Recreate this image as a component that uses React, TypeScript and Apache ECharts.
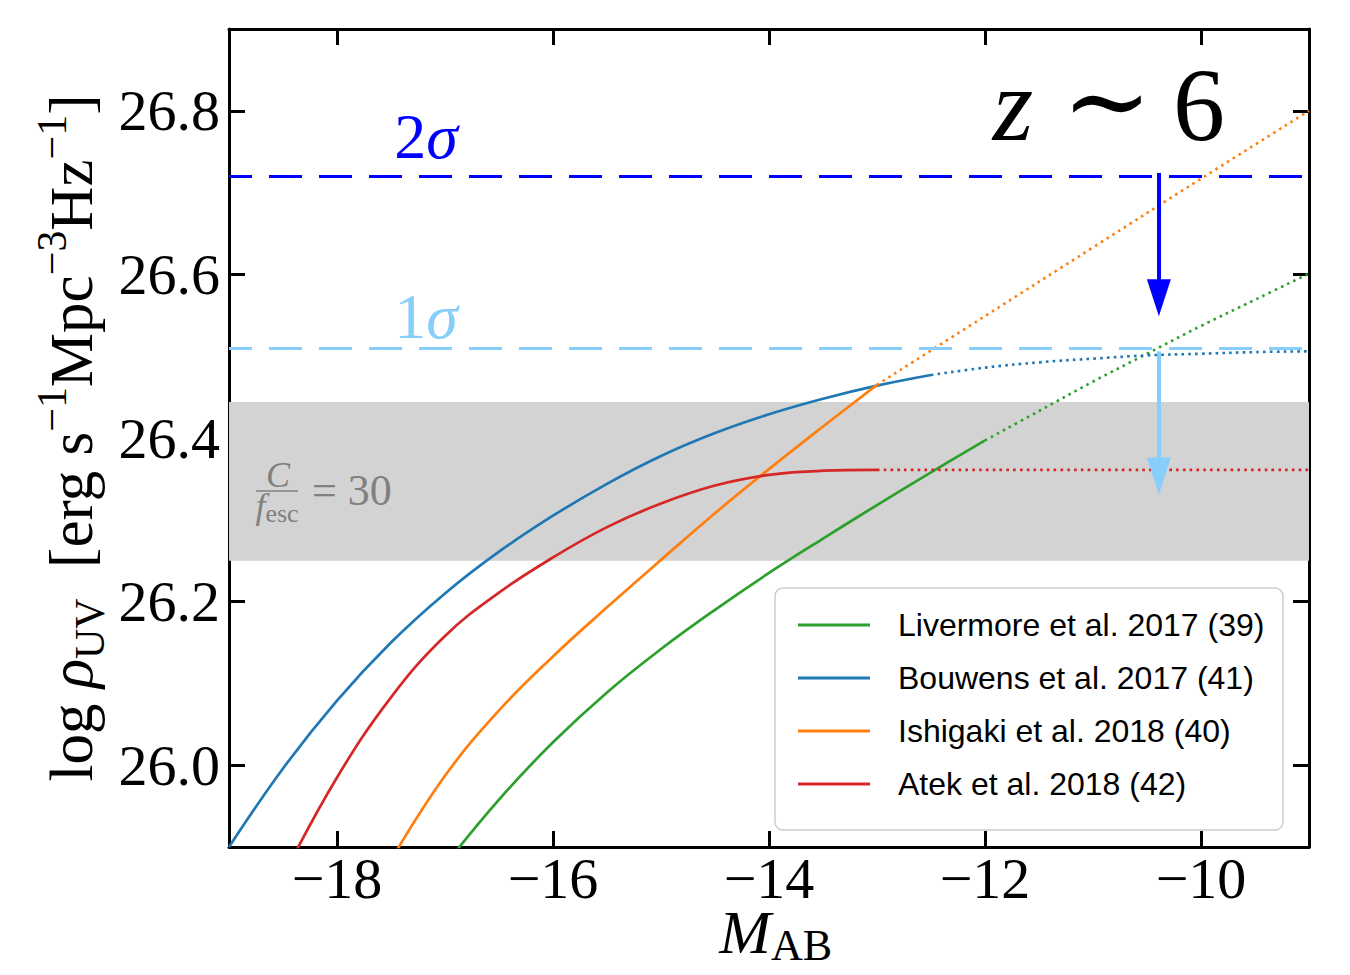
import React, { useEffect, useRef } from "react";
import * as echarts from "echarts";

// Axis ranges and ticks
const X_MIN = -19;
const X_MAX = -9;
const Y_MIN = 25.9;
const Y_MAX = 26.9;
const xTicks = [-18, -16, -14, -12, -10];
const yTicks = [26.0, 26.2, 26.4, 26.6, 26.8];

// Legend entries and colours
const names = [
  "Livermore et al. 2017 (39)",
  "Bouwens et al. 2017 (41)",
  "Ishigaki et al. 2018 (40)",
  "Atek et al. 2018 (42)",
];
const colors = ["#2ca02c", "#1f77b4", "#ff7f0e", "#d62728"];

// Livermore et al. 2017: integrated log rho_UV vs limiting magnitude
const livermoreM = [-17.0, -16.5, -16.0, -15.5, -15.0, -14.5, -14.0, -13.5, -13.0, -12.5, -12.0];
const livermoreRho = [25.878, 25.958, 26.028, 26.089, 26.142, 26.19, 26.235, 26.277, 26.318, 26.358, 26.397];
const livermoreExtM = [-12.0, -11.5, -11.0, -10.5, -10.0, -9.5, -9.0];
const livermoreExtRho = [26.397, 26.433, 26.469, 26.503, 26.537, 26.569, 26.601];

// Bouwens et al. 2017
const bouwensM = [-19.0, -18.5, -18.0, -17.5, -17.0, -16.5, -16.0, -15.5, -15.0, -14.5, -14.0, -13.5, -13.0, -12.5];
const bouwensRho = [25.9, 25.996, 26.079, 26.15, 26.21, 26.261, 26.305, 26.344, 26.378, 26.406, 26.429, 26.448, 26.464, 26.477];
const bouwensExtM = [-12.5, -12.0, -11.5, -11.0, -10.5, -10.0, -9.5, -9.0];
const bouwensExtRho = [26.477, 26.486, 26.4925, 26.497, 26.501, 26.503, 26.505, 26.506];

// Ishigaki et al. 2018
const ishigakiM = [-17.5, -17.0, -16.5, -16.0, -15.5, -15.0, -14.5, -14.0, -13.5, -13.0];
const ishigakiRho = [25.884, 25.987, 26.067, 26.133, 26.193, 26.251, 26.308, 26.362, 26.414, 26.465];
const ishigakiExtM = [-13.0, -12.0, -11.0, -10.0, -9.0];
const ishigakiExtRho = [26.465, 26.549, 26.633, 26.717, 26.8];

// Atek et al. 2018
const atekM = [-18.5, -18.0, -17.5, -17.0, -16.5, -16.0, -15.5, -15.0, -14.5, -14.0, -13.5, -13.0];
const atekRho = [25.864, 25.985, 26.083, 26.158, 26.211, 26.254, 26.291, 26.32, 26.342, 26.355, 26.36, 26.361];
const atekExtM = [-13.0, -12.0, -11.0, -10.0, -9.0];
const atekExtRho = [26.361, 26.361, 26.361, 26.361, 26.361];

// Reference levels
const sigma2Level = 26.724;
const sigma1Level = 26.506;
const clumpingBand = [26.25, 26.444];
const arrowM = -10.39;
const arrowLength = 0.175;
const arrowHeadHalf = 0.0226;

const SERIF = '"Liberation Serif", "DejaVu Serif", serif';
const SANS = '"Liberation Sans", "DejaVu Sans", sans-serif';
const GREY = "#808080";

const pairs = (xs: number[], ys: number[]) => xs.map((x, i) => [x, ys[i]]);

const solidLine = (name: string, color: string, xs: number[], ys: number[]) => ({
  type: "line",
  name,
  data: pairs(xs, ys),
  symbol: "none",
  showSymbol: false,
  smooth: 0.4,
  silent: true,
  z: 3,
  itemStyle: { color },
  lineStyle: { color, width: 2.7 },
});

const dottedLine = (name: string, color: string, xs: number[], ys: number[]) => ({
  type: "line",
  name,
  data: pairs(xs, ys),
  symbol: "none",
  showSymbol: false,
  smooth: 0.4,
  silent: true,
  z: 3,
  itemStyle: { color },
  lineStyle: { color, width: 2.6, type: [2.6, 4.2], cap: "butt" },
});

const frameAxis = {
  axisLine: { show: true, onZero: false, lineStyle: { color: "#000", width: 3 } },
  splitLine: { show: false },
};

export default function App() {
  const ref = useRef<HTMLDivElement>(null);

  useEffect(() => {
    document.body.style.margin = "0";
    if (!ref.current) return;
    const chart = echarts.init(ref.current, null, { renderer: "svg" });

    const tickX = { show: true, inside: true, length: 16, lineStyle: { color: "#000", width: 3 }, customValues: xTicks };
    const tickY = { show: true, inside: true, length: 16, lineStyle: { color: "#000", width: 3 }, customValues: yTicks };

    const option: any = {
      animation: false,
      backgroundColor: "#ffffff",
      grid: { left: 229, right: 41, top: 29, bottom: 128, containLabel: false, outerBoundsMode: "none" },
      xAxis: [
        {
          type: "value",
          min: X_MIN,
          max: X_MAX,
          position: "bottom",
          ...frameAxis,
          axisTick: tickX,
          axisLabel: {
            customValues: xTicks,
            margin: 11,
            fontFamily: SERIF,
            fontSize: 58,
            lineHeight: 40,
            color: "#000",
            formatter: (v: number) => (v < 0 ? "\u2212" : "") + Math.abs(v),
          },
        },
        {
          type: "value",
          min: X_MIN,
          max: X_MAX,
          position: "top",
          ...frameAxis,
          axisTick: tickX,
          axisLabel: { show: false },
        },
      ],
      yAxis: [
        {
          type: "value",
          min: Y_MIN,
          max: Y_MAX,
          position: "left",
          ...frameAxis,
          axisTick: tickY,
          axisLabel: {
            customValues: yTicks,
            margin: 9,
            fontFamily: SERIF,
            fontSize: 58,
            color: "#000",
            formatter: (v: number) => v.toFixed(1),
          },
          name: "{n|log }{i|\u03c1}{sb|UV}{n|  [erg s}{sp|\u22121}{n|Mpc}{sp|\u22123}{n|Hz}{sp|\u22121}{n|]}",
          nameLocation: "middle",
          nameGap: 118,
          nameMoveOverlap: false,
          nameTextStyle: {
            rich: {
              n: { fontFamily: SERIF, fontSize: 61, lineHeight: 80, color: "#000", verticalAlign: "middle" },
              i: { fontFamily: SERIF, fontStyle: "italic", fontSize: 61, lineHeight: 80, color: "#000", verticalAlign: "middle" },
              sp: { fontFamily: SERIF, fontSize: 42, lineHeight: 40, color: "#000", verticalAlign: "top" },
              sb: { fontFamily: SERIF, fontSize: 42, lineHeight: 52, color: "#000", verticalAlign: "bottom" },
            },
          },
        },
        {
          type: "value",
          min: Y_MIN,
          max: Y_MAX,
          position: "right",
          ...frameAxis,
          axisTick: tickY,
          axisLabel: { show: false },
        },
      ],
      legend: {
        data: names,
        orient: "vertical",
        left: 798,
        top: 605,
        padding: 0,
        icon: "rect",
        itemWidth: 72,
        itemHeight: 3,
        itemGap: 13,
        z: 10,
        selectedMode: false,
        textStyle: { fontFamily: SANS, fontSize: 32, color: "#000", lineHeight: 40, padding: [0, 0, 0, 23] },
      },
      series: [
        {
          type: "line",
          data: [],
          z: 1,
          silent: true,
          markArea: {
            silent: true,
            itemStyle: { color: "#d3d3d3" },
            label: { show: false },
            data: [[{ yAxis: clumpingBand[0] }, { yAxis: clumpingBand[1] }]],
          },
        },
        {
          type: "line",
          data: [],
          z: 2,
          silent: true,
          markLine: {
            silent: true,
            symbol: "none",
            label: { show: false },
            data: [
              { yAxis: sigma2Level, lineStyle: { color: "#0000ff", width: 3, type: [33, 17], dashOffset: 10 } },
              { yAxis: sigma1Level, lineStyle: { color: "#87cefa", width: 3, type: [33, 17], dashOffset: 10 } },
            ],
          },
        },
        solidLine(names[0], colors[0], livermoreM, livermoreRho),
        dottedLine("Livermore extrapolation", colors[0], livermoreExtM, livermoreExtRho),
        solidLine(names[1], colors[1], bouwensM, bouwensRho),
        dottedLine("Bouwens extrapolation", colors[1], bouwensExtM, bouwensExtRho),
        solidLine(names[2], colors[2], ishigakiM, ishigakiRho),
        dottedLine("Ishigaki extrapolation", colors[2], ishigakiExtM, ishigakiExtRho),
        solidLine(names[3], colors[3], atekM, atekRho),
        dottedLine("Atek extrapolation", colors[3], atekExtM, atekExtRho),
        {
          type: "line",
          data: [],
          z: 5,
          silent: true,
          markLine: {
            silent: true,
            label: { show: false },
            data: [
              [
                { coord: [arrowM, sigma2Level], symbol: "none" },
                {
                  coord: [arrowM, sigma2Level - arrowLength + arrowHeadHalf],
                  symbol: "triangle",
                  symbolSize: [24, 37],
                },
              ],
              [
                { coord: [arrowM, sigma1Level], symbol: "none" },
                {
                  coord: [arrowM, sigma1Level - arrowLength + arrowHeadHalf],
                  symbol: "triangle",
                  symbolSize: [24, 37],
                },
              ],
            ].map((seg, i) =>
              seg.map((p) => ({
                ...p,
                lineStyle: { color: i === 0 ? "#0000ff" : "#87cefa", width: 4, type: "solid" },
                itemStyle: { color: i === 0 ? "#0000ff" : "#87cefa" },
              }))
            ),
          },
        },
      ],
      graphic: [
        {
          type: "rect",
          z: 5,
          silent: true,
          shape: { x: 775, y: 588, width: 508, height: 242, r: 8 },
          style: { fill: "rgba(255,255,255,0.85)", stroke: "#cccccc", lineWidth: 1.5 },
        },
        // x-axis title: italic M with roman subscript AB
        {
          type: "text",
          z: 6,
          x: 771,
          y: 932,
          style: {
            text: "M",
            align: "right",
            verticalAlign: "middle",
            fontFamily: SERIF,
            fontStyle: "italic",
            fontSize: 62,
            fill: "#000",
          },
        },
        {
          type: "text",
          z: 6,
          x: 771,
          y: 945,
          style: {
            text: "AB",
            align: "left",
            verticalAlign: "middle",
            fontFamily: SERIF,
            fontSize: 44,
            fill: "#000",
          },
        },
        {
          type: "text",
          z: 6,
          x: 426,
          y: 136,
          style: {
            text: "{a|2}{b|\u03c3}",
            align: "center",
            verticalAlign: "middle",
            rich: {
              a: { fontFamily: SERIF, fontSize: 64, fill: "#0000ff" },
              b: { fontFamily: SERIF, fontStyle: "italic", fontSize: 64, fill: "#0000ff" },
            },
          },
        },
        {
          type: "text",
          z: 6,
          x: 426,
          y: 316,
          style: {
            text: "{a|1}{b|\u03c3}",
            align: "center",
            verticalAlign: "middle",
            rich: {
              a: { fontFamily: SERIF, fontSize: 64, fill: "#87cefa" },
              b: { fontFamily: SERIF, fontStyle: "italic", fontSize: 64, fill: "#87cefa" },
            },
          },
        },
        {
          type: "text",
          z: 6,
          x: 1013,
          y: 104,
          style: {
            text: "z",
            align: "center",
            verticalAlign: "middle",
            fontFamily: SERIF,
            fontStyle: "italic",
            fontSize: 104,
            fill: "#000",
          },
        },
        {
          type: "text",
          z: 6,
          x: 1107,
          y: 100,
          style: {
            text: "\u223c",
            align: "center",
            verticalAlign: "middle",
            fontFamily: '"DejaVu Serif", serif',
            fontSize: 108,
            fill: "#000",
          },
        },
        {
          type: "text",
          z: 6,
          x: 1199,
          y: 104,
          style: {
            text: "6",
            align: "center",
            verticalAlign: "middle",
            fontFamily: SERIF,
            fontSize: 104,
            fill: "#000",
          },
        },
        {
          type: "text",
          z: 6,
          x: 278,
          y: 475,
          style: {
            text: "C",
            align: "center",
            verticalAlign: "middle",
            fontFamily: SERIF,
            fontStyle: "italic",
            fontSize: 36,
            fill: GREY,
          },
        },
        {
          type: "line",
          z: 6,
          shape: { x1: 256, y1: 491, x2: 298, y2: 491 },
          style: { stroke: GREY, lineWidth: 1.6 },
        },
        {
          type: "text",
          z: 6,
          x: 277,
          y: 506,
          style: {
            text: "{f|f}{s|esc}",
            align: "center",
            verticalAlign: "middle",
            rich: {
              f: { fontFamily: SERIF, fontStyle: "italic", fontSize: 36, lineHeight: 40, fill: GREY, verticalAlign: "middle" },
              s: { fontFamily: SERIF, fontSize: 26, lineHeight: 30, fill: GREY, verticalAlign: "bottom" },
            },
          },
        },
        {
          type: "text",
          z: 6,
          x: 312,
          y: 490,
          style: {
            text: "= 30",
            align: "left",
            verticalAlign: "middle",
            fontFamily: SERIF,
            fontSize: 44,
            fill: GREY,
          },
        },
      ],
    };

    chart.setOption(option);
    return () => chart.dispose();
  }, []);

  return <div ref={ref} style={{ width: 1350, height: 975 }} />;
}
